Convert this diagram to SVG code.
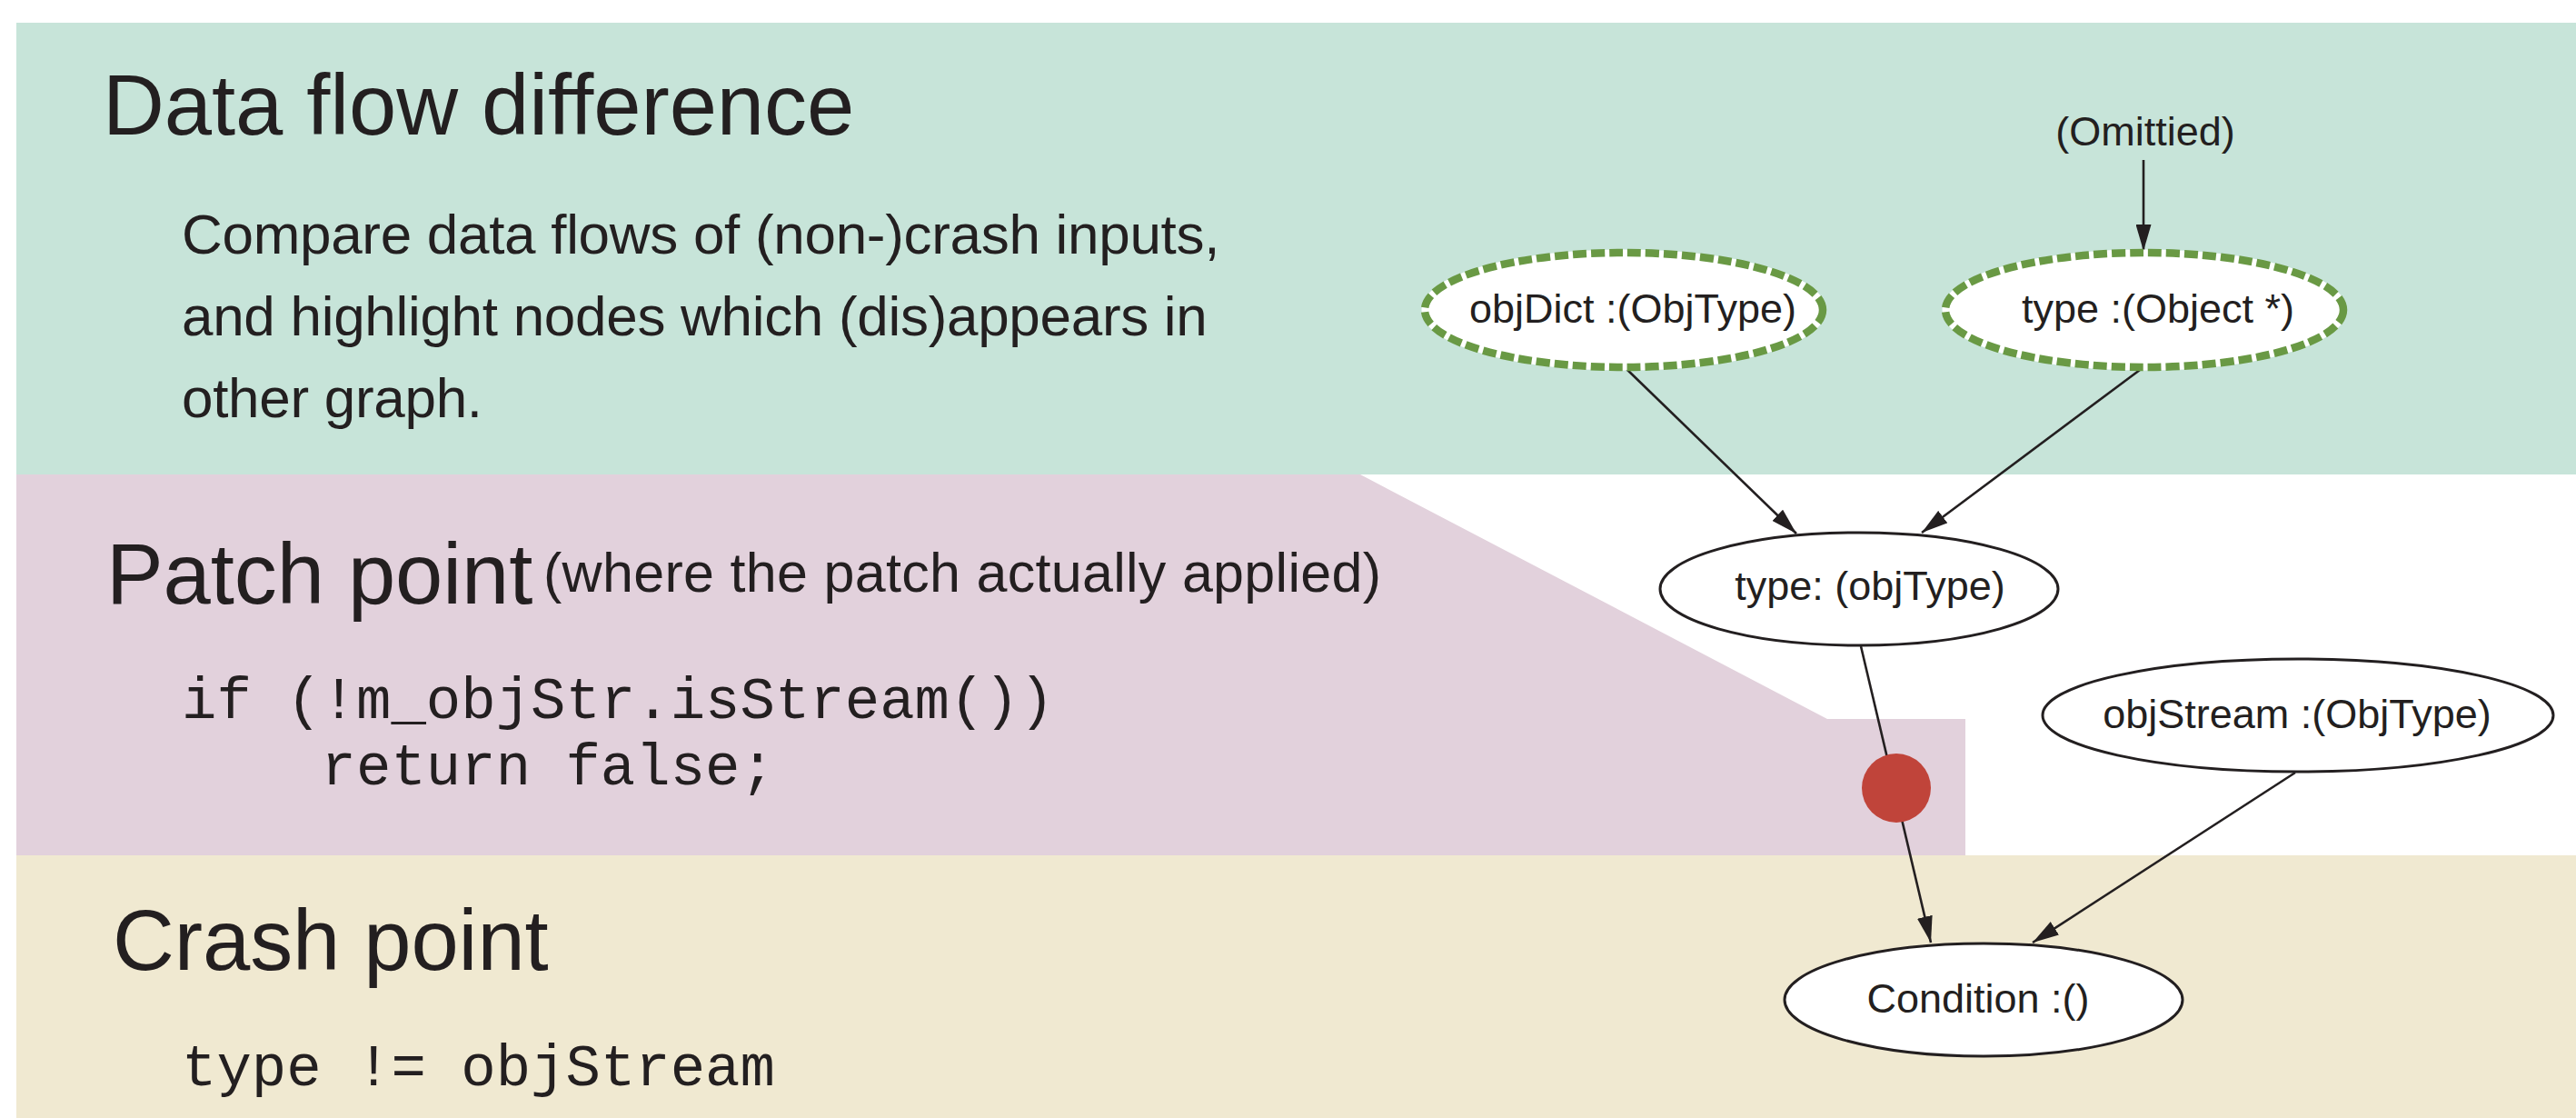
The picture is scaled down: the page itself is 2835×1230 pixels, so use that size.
<svg xmlns="http://www.w3.org/2000/svg" width="2835" height="1230" viewBox="0 0 2835 1230">
  <style>
    .head { font-family: "Liberation Sans", Arial, sans-serif; font-size: 94px; fill: #231f20; letter-spacing: -0.1px; }
    .sub { font-family: "Liberation Sans", Arial, sans-serif; font-size: 61px; fill: #231f20; letter-spacing: 0.3px; }
    .body { font-family: "Liberation Sans", Arial, sans-serif; font-size: 62px; fill: #231f20; letter-spacing: -0.3px; }
    .code { font-family: "Liberation Mono", "DejaVu Sans Mono", monospace; font-size: 64px; fill: #231f20; }
    .label { font-family: "Liberation Sans", Arial, sans-serif; font-size: 45px; fill: #231f20; text-anchor: middle; }
    .node { fill: #ffffff; stroke: #231f20; stroke-width: 3; }
    .changed-under { fill: #ffffff; stroke: #ffffff; stroke-width: 7; }
    .changed { fill: none; stroke: #699944; stroke-width: 8.5; stroke-dasharray: 15 5; }
    .edge { fill: none; stroke: #231f20; stroke-width: 2.6; marker-end: url(#arrow); }
  </style>
  <defs>
    <marker id="arrow" viewBox="0 0 29 17" refX="29" refY="8.5" markerWidth="29" markerHeight="17" markerUnits="userSpaceOnUse" orient="auto">
      <path d="M0,0 L29,8.5 L0,17 z" fill="#231f20"/>
    </marker>
  </defs>

  <!-- section bands -->
  <g id="bands">
    <rect x="0" y="0" width="2835" height="1230" fill="#ffffff"/>
    <rect x="18" y="25" width="2817" height="497" fill="#c7e4d9"/>
    <polygon points="18,522 1497,522 2011,791 2163,791 2163,941 18,941" fill="#e2d1dc"/>
    <rect x="18" y="941" width="2817" height="289" fill="#f0e9d1"/>
  </g>

  <!-- data flow section -->
  <g id="section-dataflow">
    <text class="head" x="113" y="148">Data flow difference</text>
    <text class="body" x="200" y="279">Compare data flows of (non-)crash inputs,</text>
    <text class="body" x="200" y="369">and highlight nodes which (dis)appears in</text>
    <text class="body" x="200" y="459">other graph.</text>
  </g>

  <!-- patch section -->
  <g id="section-patch">
    <text class="head" x="117" y="664">Patch point</text>
    <text class="sub" x="598" y="651">(where the patch actually applied)</text>
    <text class="code" x="200" y="790">if (!m_objStr.isStream())</text>
    <text class="code" x="353.6" y="863">return false;</text>
  </g>

  <!-- crash section -->
  <g id="section-crash">
    <text class="head" x="124" y="1067">Crash point</text>
    <text class="code" x="200" y="1194">type != objStream</text>
  </g>

  <!-- connectors -->
  <g id="connectors">
    <line class="edge" x1="2359" y1="176" x2="2359" y2="276"/>
    <line class="edge" x1="1788" y1="404" x2="1977" y2="587"/>
    <line class="edge" x1="2359" y1="404" x2="2115" y2="586"/>
    <line class="edge" x1="2048" y1="711" x2="2125" y2="1037"/>
    <line class="edge" x1="2526" y1="850" x2="2237" y2="1037"/>
  </g>

  <g id="omitted">
    <text class="label" x="2361" y="160">(Omittied)</text>
  </g>

  <g id="node-objDict">
    <ellipse class="changed-under" cx="1787" cy="341" rx="219" ry="63"/>
    <ellipse class="changed" cx="1787" cy="341" rx="219" ry="63"/>
    <text class="label" x="1797" y="355">objDict :(ObjType)</text>
  </g>

  <g id="node-type-object">
    <ellipse class="changed-under" cx="2360" cy="341" rx="219" ry="63"/>
    <ellipse class="changed" cx="2360" cy="341" rx="219" ry="63"/>
    <text class="label" x="2375" y="355">type :(Object *)</text>
  </g>

  <g id="node-type-objtype">
    <ellipse class="node" cx="2046" cy="648" rx="219" ry="62"/>
    <text class="label" x="2058" y="660">type: (objType)</text>
  </g>

  <g id="node-objStream">
    <ellipse class="node" cx="2529" cy="787" rx="281" ry="62"/>
    <text class="label" x="2528" y="801">objStream :(ObjType)</text>
  </g>

  <g id="node-condition">
    <ellipse class="node" cx="2183" cy="1100" rx="219" ry="62"/>
    <text class="label" x="2177" y="1114">Condition :()</text>
  </g>

  <!-- patch location marker on the type edge -->
  <g id="patch-dot">
    <circle cx="2087" cy="867" r="38" fill="#c0443a"/>
  </g>
</svg>
